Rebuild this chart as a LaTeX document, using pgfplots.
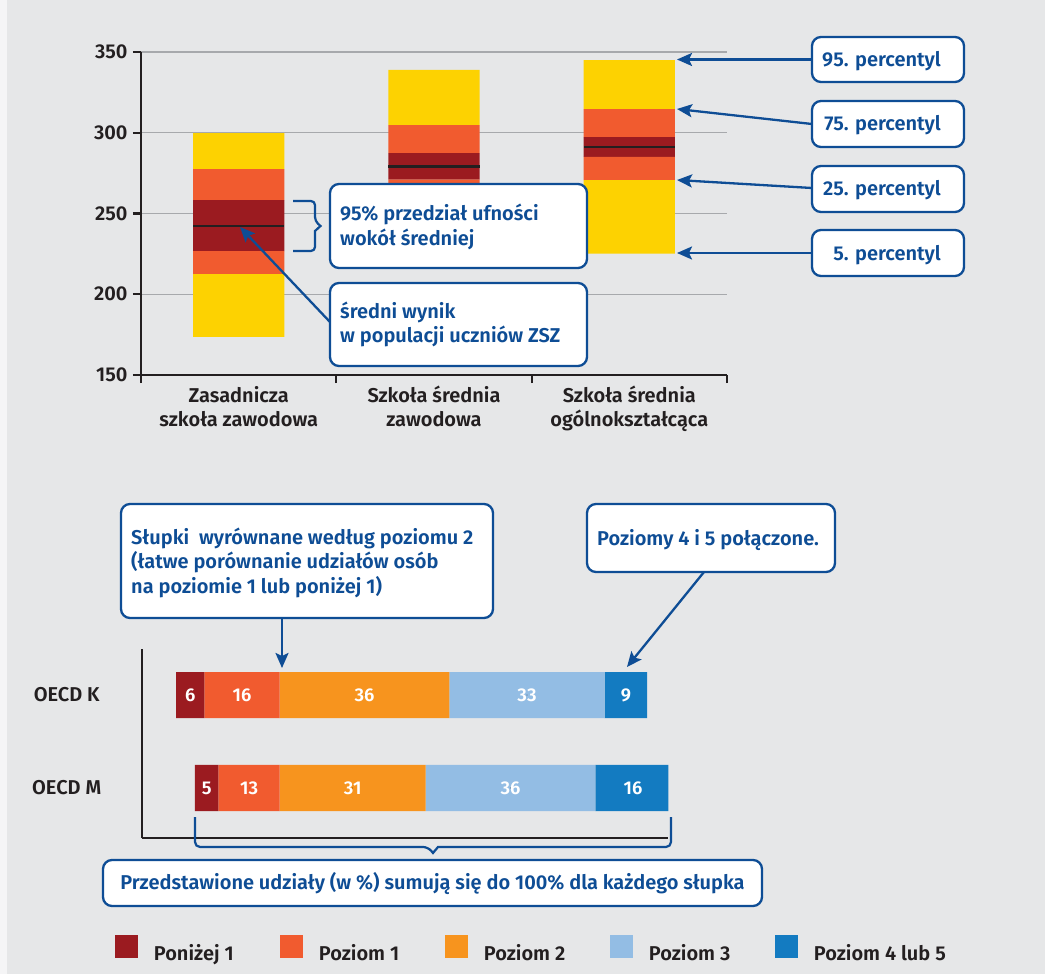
\documentclass[border=0pt]{standalone}
\usepackage{pgfplots}
\pgfplotsset{compat=1.18}
\usepackage{pgfplotstable}
\usepackage{fontspec}
\setmainfont{Fira Sans}[BoldFont={Fira Sans SemiBold}]
\usetikzlibrary{arrows.meta}

\definecolor{bg}{HTML}{E6E7E8}
\definecolor{pyellow}{HTML}{FDD201}
\definecolor{porange}{HTML}{F15B2F}
\definecolor{pred}{HTML}{9B1B20}
\definecolor{lorange}{HTML}{F7941E}
\definecolor{lblue}{HTML}{93BDE4}
\definecolor{dblue}{HTML}{137BC1}
\definecolor{cblue}{HTML}{0E4D95}
\definecolor{ink}{HTML}{231F20}
\definecolor{gridgray}{HTML}{A7A9AC}

\newcommand{\lab}{\fontsize{20bp}{24bp}\selectfont\bfseries}
\newcommand{\numf}{\fontsize{18.5bp}{22bp}\selectfont\bfseries}

% percentyle i przedzial ufnosci
\pgfplotstableread{
x p5 p25 lo mean hi p75 p95
0 173.6 212.5 226.7 242.2 258.3 277.5 299.8
1 225.0 252.0 271.0 279.0 287.4 304.8 339.0
2 225.2 270.7 285.0 291.3 297.3 314.7 345.0
}\pct

% poziomy (w %); base = przesuniecie tak, by poziom 2 zaczynal sie w 30
\pgfplotstableread{
c base below l1 l2 l3 l45
0 12 5 13 31 36 16
1 8 6 16 36 33 9
}\lev

\pgfplotsset{
  /pgf/number format/assume math mode=true,
  geomtop/.style={at={(141bp,-375bp)}, anchor=south west,
    scale only axis, width=586bp, height=323bp,
    xmin=-0.5, xmax=2.5, ymin=150, ymax=350},
  geombot/.style={at={(141.7bp,-838bp)}, anchor=south west,
    scale only axis, width=526.6bp, height=189bp,
    xmin=0.7, xmax=112.5, ymin=-0.538, ymax=1.495},
  num/.style={only marks, mark=*, mark options={draw=none, fill=none, scale=0.01},
    nodes near coords, point meta=\thisrow{#1},
    every node near coord/.append style={anchor=center, text=white,
      font=\numf, inner sep=0pt}},
}

\begin{document}
\begin{tikzpicture}
\useasboundingbox (0,0) rectangle (1045bp,-974bp);
\fill[bg] (0,0) rectangle (1045bp,-974bp);
\fill[white!60!bg] (0,0) rectangle (7bp,-974bp);

\begin{axis}[geomtop,
  ybar stacked, bar width=0.467,
  axis lines*=left,
  axis line style={ink, line width=2.2bp},
  tick style={ink, line width=2.2bp},
  tick align=outside, major tick length=8bp,
  xtick={-0.5,0.5,1.5,2.5}, xticklabels={,,,},
  extra x ticks={0,1,2},
  extra x tick labels={{Zasadnicza\\szkoła zawodowa},{Szkoła średnia\\zawodowa},{Szkoła średnia\\ogólnokształcąca}},
  extra x tick style={major tick length=0pt},
  xticklabel style={align=center, font=\lab, text=ink, inner sep=0pt, yshift=-11bp},
  ytick={150,200,...,350},
  yticklabel style={font=\lab, text=ink, xshift=-2bp},
  ymajorgrids, grid style={gridgray, line width=1.3bp},
]
\addplot[draw=none, fill=none] table[x=x, y=p5]{\pct};
\addplot[draw=none, fill=pyellow] table[x=x, y expr=\thisrow{p25}-\thisrow{p5}]{\pct};
\addplot[draw=none, fill=porange] table[x=x, y expr=\thisrow{lo}-\thisrow{p25}]{\pct};
\addplot[draw=none, fill=pred] table[x=x, y expr=\thisrow{hi}-\thisrow{lo}]{\pct};
\addplot[draw=none, fill=porange] table[x=x, y expr=\thisrow{p75}-\thisrow{hi}]{\pct};
\addplot[draw=none, fill=pyellow] table[x=x, y expr=\thisrow{p95}-\thisrow{p75}]{\pct};
\end{axis}

% srednia
\begin{axis}[geomtop, hide axis]
\addplot[draw=none, mark=none, error bars/.cd, x dir=both, x fixed=0.2335,
  error mark=none, error bar style={draw=ink, line width=2.4bp}]
  table[x=x, y=mean]{\pct};
\end{axis}

\begin{axis}[geombot,
  xbar stacked, bar width=0.495,
  axis lines*=left, axis line style={ink, line width=2.2bp},
  xtick=\empty, ytick={0,1}, yticklabels={OECD M, OECD K},
  major tick length=0pt,
  yticklabel style={font=\lab, text=ink, anchor=center, xshift=-75bp},
  legend image code/.code={\fill[#1] (0bp,-5bp) rectangle (23bp,18bp); \path (39bp,0bp);},
  legend columns=5,
  legend style={at={(-0.0507,-0.5847)}, anchor=west, draw=none, fill=none,
    inner sep=0pt, outer sep=0pt, column sep=0pt, font=\lab, text=ink,
    nodes={inner sep=0pt}},
]
\addplot[draw=none, fill=none, forget plot] table[x=base, y=c]{\lev};
\addplot[draw=none, fill=pred] table[x=below, y=c]{\lev};
\addlegendentry{\makebox[126bp][l]{Poniżej 1}}
\addplot[draw=none, fill=porange] table[x=l1, y=c]{\lev};
\addlegendentry{\makebox[126bp][l]{Poziom 1}}
\addplot[draw=none, fill=lorange] table[x=l2, y=c]{\lev};
\addlegendentry{\makebox[126bp][l]{Poziom 2}}
\addplot[draw=none, fill=lblue] table[x=l3, y=c]{\lev};
\addlegendentry{\makebox[126bp][l]{Poziom 3}}
\addplot[draw=none, fill=dblue] table[x=l45, y=c]{\lev};
\addlegendentry{Poziom 4 lub 5}
\end{axis}

% wartosci w srodku segmentow
\begin{axis}[geombot, hide axis]
\addplot[num=below] table[x expr=\thisrow{base}+\thisrow{below}/2, y=c]{\lev};
\addplot[num=l1] table[x expr=\thisrow{base}+\thisrow{below}+\thisrow{l1}/2, y=c]{\lev};
\addplot[num=l2] table[x expr=\thisrow{base}+\thisrow{below}+\thisrow{l1}+\thisrow{l2}/2, y=c]{\lev};
\addplot[num=l3] table[x expr=\thisrow{base}+\thisrow{below}+\thisrow{l1}+\thisrow{l2}+\thisrow{l3}/2, y=c]{\lev};
\addplot[num=l45] table[x expr=\thisrow{base}+\thisrow{below}+\thisrow{l1}+\thisrow{l2}+\thisrow{l3}+\thisrow{l45}/2, y=c]{\lev};
\end{axis}

\begin{scope}[x=1bp, y=-1bp,
  box/.style={draw=cblue, line width=2.3bp, fill=white, rounded corners=9bp},
  txt/.style={font=\lab, text=cblue, inner sep=0pt},
  arr/.style={draw=cblue, line width=2.3bp, -{Stealth[length=15bp, width=13bp, inset=3bp]}}]
% percentyle
\draw[arr] (812,59.5) -- (677,59.5);
\draw[arr] (812,124) -- (677,109);
\draw[arr] (812,188) -- (677,180);
\draw[arr] (812,253) -- (677,253);
\draw[box] (812,37) rectangle (964,82);
\draw[box] (812,101) rectangle (964,147);
\draw[box] (812,166) rectangle (964,212);
\draw[box] (812,230) rectangle (964,276);
\node[txt, anchor=base east] at (941,66) {95. percentyl};
\node[txt, anchor=base east] at (941,130.5) {75. percentyl};
\node[txt, anchor=base east] at (941,195) {25. percentyl};
\node[txt, anchor=base east] at (941,260) {5. percentyl};
% przedzial ufnosci
\draw[cblue, line width=2.2bp, rounded corners=4bp]
  (293,201) -| (315,221) [sharp corners] -- (320.5,226) -- (315,231)
  [rounded corners=4bp] |- (293,251);
\draw[box] (330,184) rectangle (587,268);
\node[txt, anchor=base west] at (340,220) {95\% przedział ufności};
\node[txt, anchor=base west] at (340,245) {wokół średniej};
% sredni wynik
\draw[arr] (330,322) -- (240,227);
\draw[box] (330,283) rectangle (587,366);
\node[txt, anchor=base west] at (340,318) {średni wynik};
\node[txt, anchor=base west] at (340,342) {w populacji uczniów ZSZ};
% dolne objasnienia
\draw[arr] (282,618) -- (282,668);
\draw[box] (121,504) rectangle (493,618);
\node[txt, anchor=base west] at (131,544) {Słupki~ wyrównane według poziomu 2};
\node[txt, anchor=base west] at (131,568.5) {(łatwe porównanie udziałów osób};
\node[txt, anchor=base west] at (131,593) {na poziomie 1 lub poniżej 1)};
\draw[arr] (704,572) -- (627,667);
\draw[box] (587,504) rectangle (835,572);
\node[txt, anchor=base west] at (597,545) {Poziomy 4 i 5 połączone.};
\draw[cblue, line width=2.2bp, rounded corners=5bp]
  (195,817) |- (428,847) [sharp corners] -- (433,853) -- (438,847)
  [rounded corners=5bp] -| (671,817);
\draw[box] (103,860) rectangle (762,906);
\node[txt, anchor=base] at (432.5,889) {Przedstawione udziały (w \%) sumują się do 100\% dla każdego słupka};
\end{scope}
\end{tikzpicture}
\end{document}
